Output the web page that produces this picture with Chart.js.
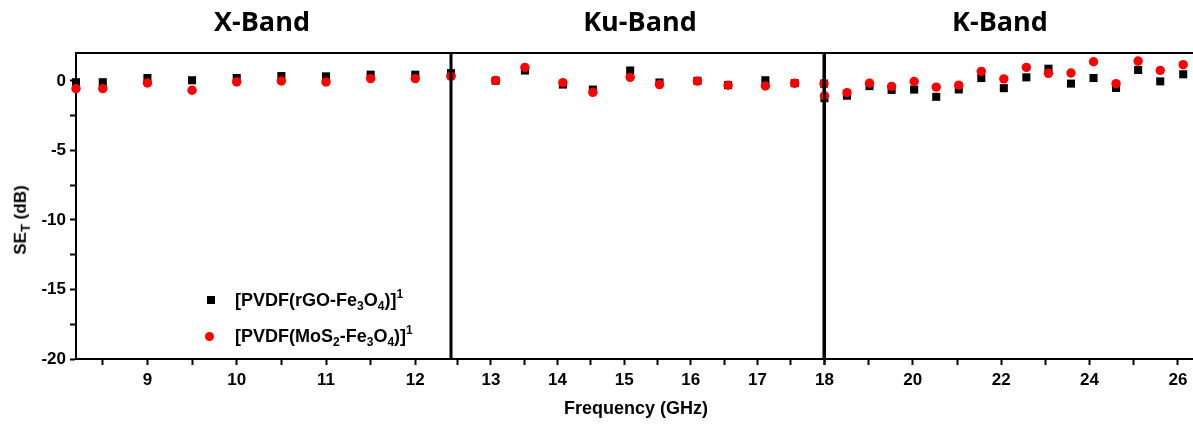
<!DOCTYPE html>
<html>
<head>
<meta charset="utf-8">
<script src="https://cdn.jsdelivr.net/npm/chart.js@4.4.0/dist/chart.umd.min.js"></script>
<style>
  html, body { margin: 0; padding: 0; background: #fff; overflow: hidden; }
  #wrap { position: relative; width: 1193px; height: 425px; overflow: hidden; background: #fff; }
  canvas { position: absolute; top: 0; }
  .txt { position: absolute; font-family: "Liberation Sans", Arial, sans-serif; font-weight: bold; color: #000; white-space: nowrap; }
  .band { font-family: "Open Sans", sans-serif; font-size: 27px; top: 2px; transform: translateX(-50%); }
  .leg { font-size: 18px; }
  .leg sub { font-size: 12px; vertical-align: -4px; }
  .leg sup { font-size: 12px; vertical-align: 8px; }
  .mark { position: absolute; }
</style>
</head>
<body>
<div id="wrap">
  <canvas id="cX" width="460" height="425" style="left:0px"></canvas>
  <canvas id="cKu" width="400" height="425" style="left:440px"></canvas>
  <canvas id="cK" width="400" height="425" style="left:810px"></canvas>

  <div class="txt band" style="left:262px">X-Band</div>
  <div class="txt band" style="left:640px">Ku-Band</div>
  <div class="txt band" style="left:1000px">K-Band</div>

  <div class="txt" style="left:22px; top:220px; font-size:17px; transform:translate(-50%,-50%) rotate(-90deg);">SE<sub style="font-size:13px">T</sub> (dB)</div>
  <div class="txt" style="left:636px; top:398px; font-size:18px; transform:translateX(-50%);">Frequency (GHz)</div>

  <div id="legend"></div>
</div>

<script>
  // data
  const seriesNames = [
    "[PVDF(rGO-Fe<sub>3</sub>O<sub>4</sub>)]<sup>1</sup>",
    "[PVDF(MoS<sub>2</sub>-Fe<sub>3</sub>O<sub>4</sub>)]<sup>1</sup>"
  ];
  const seriesColors = ["#000000", "#ff0000"];

  // X-band (8.2 - 12.4 GHz)
  const xFreq = [8.2, 8.5, 9.0, 9.5, 10.0, 10.5, 11.0, 11.5, 12.0, 12.4];
  const xRgo  = [-0.1, -0.1, 0.2, 0.04, 0.2, 0.34, 0.32, 0.44, 0.44, 0.5];
  const xMos  = [-0.56, -0.56, -0.16, -0.68, -0.08, -0.01, -0.08, 0.16, 0.16, 0.34];

  // Ku-band (12.4 - 18 GHz)
  const kuFreq = [12.4, 13.07, 13.51, 14.08, 14.53, 15.09, 15.53, 16.1, 16.56, 17.12, 17.56, 18.0];
  const kuRgo  = [0.55, 0.01, 0.74, -0.27, -0.63, 0.74, -0.12, 0.0, -0.31, 0.04, -0.17, -0.2];
  const kuMos  = [0.34, 0.03, 0.97, -0.13, -0.83, 0.25, -0.27, -0.02, -0.32, -0.37, -0.17, -0.2];

  // K-band (18 - 26.5 GHz)
  const kFreq = [18.0, 18.51, 19.02, 19.52, 20.03, 20.53, 21.04, 21.55, 22.06, 22.57, 23.07, 23.58, 24.09, 24.6, 25.1, 25.6, 26.12];
  const kRgo  = [-1.25, -1.07, -0.38, -0.65, -0.63, -1.15, -0.62, 0.2, -0.53, 0.25, 0.87, -0.2, 0.2, -0.51, 0.78, -0.04, 0.47];
  const kMos  = [-1.07, -0.85, -0.17, -0.4, -0.05, -0.45, -0.31, 0.68, 0.14, 0.97, 0.54, 0.56, 1.37, -0.2, 1.42, 0.75, 1.16];

  const yMin = -20, yMax = 2;
  const yTicks = [0, -5, -10, -15, -20];

  const tickFont = { family: "'Liberation Sans', Arial, sans-serif", weight: 'bold', size: 17 };

  // legend (html so the sub/superscripts work)
  const legend = document.getElementById('legend');
  seriesNames.forEach(function (name, i) {
    const top = 290 + i * 36;
    const m = document.createElement('div');
    m.className = 'mark';
    if (i === 0) {
      m.style.cssText = 'left:207px; top:' + (top + 6) + 'px; width:8px; height:8px; background:' + seriesColors[i];
    } else {
      m.style.cssText = 'left:205px; top:' + (top + 6) + 'px; width:9px; height:9px; border-radius:50%; background:' + seriesColors[i];
    }
    legend.appendChild(m);
    const t = document.createElement('div');
    t.className = 'txt leg';
    t.style.left = '235px';
    t.style.top = (top - 3) + 'px';
    t.innerHTML = name;
    legend.appendChild(t);
  });

  function pts(xs, ys) {
    return xs.map(function (x, i) { return { x: x, y: ys[i] }; });
  }

  // frame lines: top edge and the thick band separators
  const framePlugin = {
    id: 'frame',
    afterDatasetsDraw(chart, args, opts) {
      const ctx = chart.ctx, a = chart.chartArea;
      ctx.save();
      ctx.strokeStyle = '#000';
      ctx.lineWidth = 2;
      ctx.beginPath();
      ctx.moveTo(a.left - 1, a.top);
      ctx.lineTo(a.right + 1, a.top);
      ctx.stroke();
      if (opts.left) {
        ctx.lineWidth = opts.left;
        ctx.beginPath();
        ctx.moveTo(a.left, a.top - 1);
        ctx.lineTo(a.left, a.bottom);
        ctx.stroke();
      }
      if (opts.right) {
        ctx.lineWidth = opts.right;
        ctx.beginPath();
        ctx.moveTo(a.right, a.top - 1);
        ctx.lineTo(a.right, a.bottom);
        ctx.stroke();
      }
      ctx.restore();
    }
  };

  function makeChart(id, freq, rgo, mos, xopt, padding, frame, showY) {
    return new Chart(document.getElementById(id), {
      type: 'scatter',
      data: {
        datasets: [
          {
            label: 'MoS2', data: pts(freq, mos), order: 0, clip: false,
            pointStyle: 'circle', pointRadius: 4.7, pointBorderWidth: 0,
            backgroundColor: seriesColors[1], borderColor: seriesColors[1]
          },
          {
            label: 'rGO', data: pts(freq, rgo), order: 1, clip: false,
            pointStyle: 'rect', pointRadius: 5.7, pointBorderWidth: 0,
            backgroundColor: seriesColors[0], borderColor: seriesColors[0]
          }
        ]
      },
      options: {
        responsive: false,
        animation: false,
        devicePixelRatio: 1,
        events: [],
        layout: { padding: padding },
        plugins: { legend: { display: false }, tooltip: { enabled: false }, frame: frame },
        scales: {
          x: {
            type: 'linear',
            min: xopt.min, max: xopt.max,
            afterFit: function (s) { s.height = 66; },
            border: { display: true, color: '#000', width: 2 },
            grid: { drawOnChartArea: false, drawTicks: true, tickLength: 6, tickWidth: 2, tickColor: '#000' },
            ticks: {
              stepSize: xopt.step, includeBounds: false, autoSkip: false, maxRotation: 0,
              color: '#000', font: tickFont, padding: 5,
              callback: xopt.label
            }
          },
          y: {
            display: showY,
            min: yMin, max: yMax,
            afterFit: function (s) { s.width = showY ? 76 : 0; },
            border: { display: true, color: '#000', width: 2 },
            grid: { drawOnChartArea: false, drawTicks: true, tickLength: 6, tickWidth: 2, tickColor: '#000' },
            ticks: {
              stepSize: 2.5, includeBounds: false, autoSkip: false,
              color: '#000', font: tickFont, padding: 4,
              callback: function (v) { return yTicks.indexOf(v) >= 0 ? String(v) : ''; }
            }
          }
        }
      },
      plugins: [framePlugin]
    });
  }

  makeChart('cX', xFreq, xRgo, xMos,
    { min: 8.2, max: 12.4, step: 0.5, label: function (v) { return Number.isInteger(v) ? String(v) : ''; } },
    { top: 53, right: 9, left: 0, bottom: 0 }, { left: 0 }, true);

  makeChart('cKu', kuFreq, kuRgo, kuMos,
    { min: 12.4, max: 18, step: 0.5, label: function (v) { return (Number.isInteger(v) && v < 18) ? String(v) : ''; } },
    { top: 53, right: 16, left: 11, bottom: 0 }, { left: 3, right: 3 }, false);

  makeChart('cK', kFreq, kRgo, kMos,
    { min: 18, max: 26.5, step: 1, label: function (v) { return v % 2 === 0 ? String(v) : ''; } },
    { top: 53, right: 10, left: 14, bottom: 0 }, { left: 3 }, false);
</script>
</body>
</html>
